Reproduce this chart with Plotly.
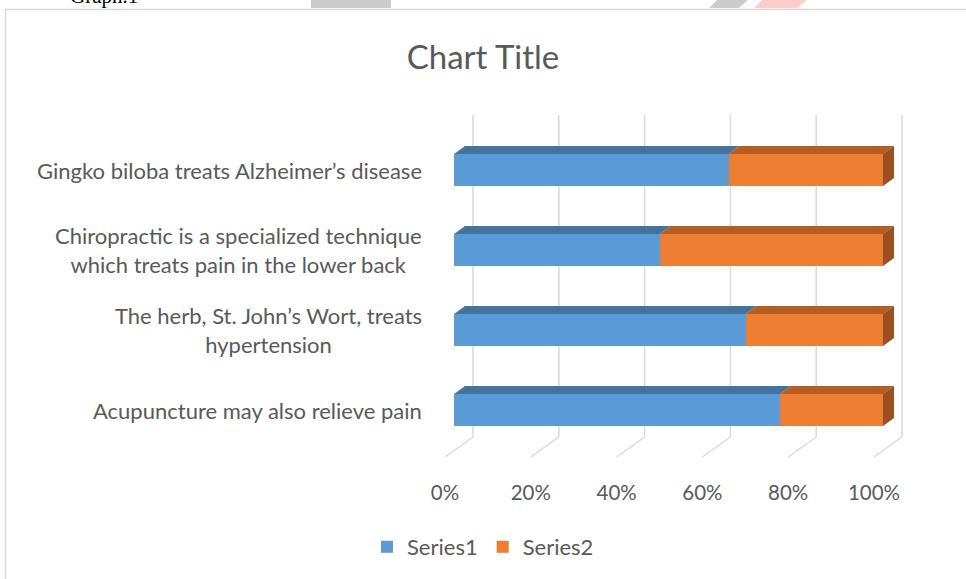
import plotly.graph_objects as go

# ---------------- data ----------------
categories = [
    "Acupuncture may also relieve pain",
    "The herb, St. John’s Wort, treats<br>hypertension",
    "Chiropractic is a specialized technique<br>which treats pain in the lower back",
    "Gingko biloba treats Alzheimer’s disease",
]
series1 = [76, 68, 48, 64]
series2 = [24, 32, 52, 36]
tick_values = [0, 20, 40, 60, 80, 100]
tick_labels = ["0%", "20%", "40%", "60%", "80%", "100%"]
series_names = ["Series1", "Series2"]

# ---------------- geometry / style (pixels -> axis units) ----------------
W, H = 966, 579
X0_PX, X100_PX = 454, 883          # front face of bars
PXU = (X100_PX - X0_PX) / 100.0    # pixels per x unit
CAT0_PX, CAT_STEP = 410, 80        # centre of first category, spacing
def xu(px):
    return px / PXU
def yu(px):
    return -px / CAT_STEP

x_range = [-X0_PX / PXU, (W - X0_PX) / PXU]
y_range = [(CAT0_PX - H) / CAT_STEP, CAT0_PX / CAT_STEP]

BAR_W = 32 / CAT_STEP
DX, DY = xu(11), -yu(8)
GRID_DX = xu(19)
FLOOR_DX = xu(-9)
GRID_TOP = (CAT0_PX - 115) / CAT_STEP
FLOOR_BACK = (CAT0_PX - 437) / CAT_STEP
FLOOR_FRONT = (CAT0_PX - 457) / CAT_STEP

BLUE, BLUE_TOP = "#5B9BD5", "#44739E"
ORANGE, ORANGE_TOP, ORANGE_SIDE = "#ED7D31", "#B65D22", "#9C5020"
GRID = "#D9D9D9"
TEXT = "#595959"
FONT = "Lato"

ypos = list(range(len(categories)))

fig = go.Figure()

fig.add_trace(go.Bar(y=ypos, x=series1, orientation="h", name=series_names[0],
                     marker=dict(color=BLUE, line=dict(width=0)), width=BAR_W))
fig.add_trace(go.Bar(y=ypos, x=series2, base=series1, orientation="h", name=series_names[1],
                     marker=dict(color=ORANGE, line=dict(width=0)), width=BAR_W))

def top_faces(starts, ends):
    xs, ys = [], []
    for i, (a, b) in enumerate(zip(starts, ends)):
        yt = i + BAR_W / 2
        xs += [a, b, b + DX, a + DX, a, None]
        ys += [yt, yt, yt + DY, yt + DY, yt, None]
    return xs, ys

ends1 = series1
ends2 = [a + b for a, b in zip(series1, series2)]
for starts, ends, col in [([0] * len(series1), ends1, BLUE_TOP), (series1, ends2, ORANGE_TOP)]:
    xs, ys = top_faces(starts, ends)
    fig.add_trace(go.Scatter(x=xs, y=ys, mode="lines", fill="toself", fillcolor=col,
                             line=dict(width=0, color=col), showlegend=False, hoverinfo="skip"))

xs, ys = [], []
for i, e in enumerate(ends2):
    yt, yb = i + BAR_W / 2, i - BAR_W / 2
    xs += [e, e, e + DX, e + DX, e, None]
    ys += [yb, yt, yt + DY, yb + DY, yb, None]
fig.add_trace(go.Scatter(x=xs, y=ys, mode="lines", fill="toself", fillcolor=ORANGE_SIDE,
                         line=dict(width=0, color=ORANGE_SIDE), showlegend=False, hoverinfo="skip"))

shapes = []
for v in tick_values:
    shapes.append(dict(type="line", xref="x", yref="y", x0=v + GRID_DX, x1=v + GRID_DX,
                       y0=FLOOR_BACK, y1=GRID_TOP, line=dict(color=GRID, width=1.5), layer="below"))
    shapes.append(dict(type="line", xref="x", yref="y", x0=v + GRID_DX, x1=v + FLOOR_DX,
                       y0=FLOOR_BACK, y1=FLOOR_FRONT, line=dict(color=GRID, width=1.5), layer="below"))

ft = 1 - 9.5 / H
shapes.append(dict(type="line", xref="paper", yref="paper", x0=5.5 / W, x1=1, y0=ft, y1=ft,
                   line=dict(color=GRID, width=1.5)))
shapes.append(dict(type="line", xref="paper", yref="paper", x0=5.5 / W, x1=5.5 / W, y0=0, y1=ft,
                   line=dict(color=GRID, width=1.5)))
shapes.append(dict(type="rect", xref="paper", yref="paper", x0=311 / W, x1=391 / W, y0=1 - 8 / H, y1=1,
                   fillcolor="#CCCCCC", line=dict(width=0)))
shapes.append(dict(type="path", xref="paper", yref="paper",
                   path=f"M {709/W},{1-8/H} L {739/W},{1-8/H} L {748/W},1 L {717/W},1 Z",
                   fillcolor="#CCCCCC", line=dict(width=0)))
shapes.append(dict(type="path", xref="paper", yref="paper",
                   path=f"M {754/W},{1-8/H} L {797/W},{1-8/H} L {807/W},1 L {762/W},1 Z",
                   fillcolor="#FFCCCC", line=dict(width=0)))

annotations = []
for i, c in enumerate(categories):
    annotations.append(dict(x=424 / W, xref="paper", y=i, yref="y", text=c, showarrow=False,
                            xanchor="right", yanchor="middle", align="center",
                            font=dict(family=FONT, size=22, color=TEXT)))
annotations.append(dict(x=68 / W, xref="paper", y=1 - 10 / H, yref="paper", text="Graph.1",
                        showarrow=False, xanchor="left", yanchor="bottom",
                        font=dict(family="Liberation Serif", size=21, color="#000000")))

fig.update_layout(
    width=W, height=H,
    margin=dict(l=0, r=0, t=0, b=0),
    paper_bgcolor="white", plot_bgcolor="rgba(0,0,0,0)",
    barmode="stack",
    title=dict(text="Chart Title", x=0.5, xanchor="center", y=1 - 57 / H, yanchor="middle",
               font=dict(family=FONT, size=33, color=TEXT)),
    xaxis=dict(domain=[0, 1], range=x_range, showgrid=False, zeroline=False,
               showticklabels=False, showline=False, fixedrange=True),
    xaxis2=dict(overlaying="x", anchor="free", position=1 - 478 / H,
                range=[x_range[0] - FLOOR_DX, x_range[1] - FLOOR_DX],
                tickmode="array", tickvals=tick_values, ticktext=tick_labels,
                showgrid=False, zeroline=False, showline=False, ticks="",
                tickfont=dict(family=FONT, size=20.5, color=TEXT)),
    yaxis=dict(domain=[0, 1], range=y_range, showgrid=False, zeroline=False,
               showticklabels=False, showline=False, fixedrange=True),
    legend=dict(orientation="h", x=0.5, xanchor="center", y=1 - 547 / H, yanchor="middle",
                font=dict(family=FONT, size=22, color=TEXT), traceorder="normal",
                bgcolor="rgba(0,0,0,0)"),
    shapes=shapes,
    annotations=annotations,
    showlegend=True,
)

fig.add_trace(go.Scatter(x=[None], y=[None], xaxis="x2", showlegend=False, hoverinfo="skip"))

fig.write_html("out.html", config={"displayModeBar": False},
               post_script="document.body.style.margin='0';document.body.style.overflow='hidden';")
